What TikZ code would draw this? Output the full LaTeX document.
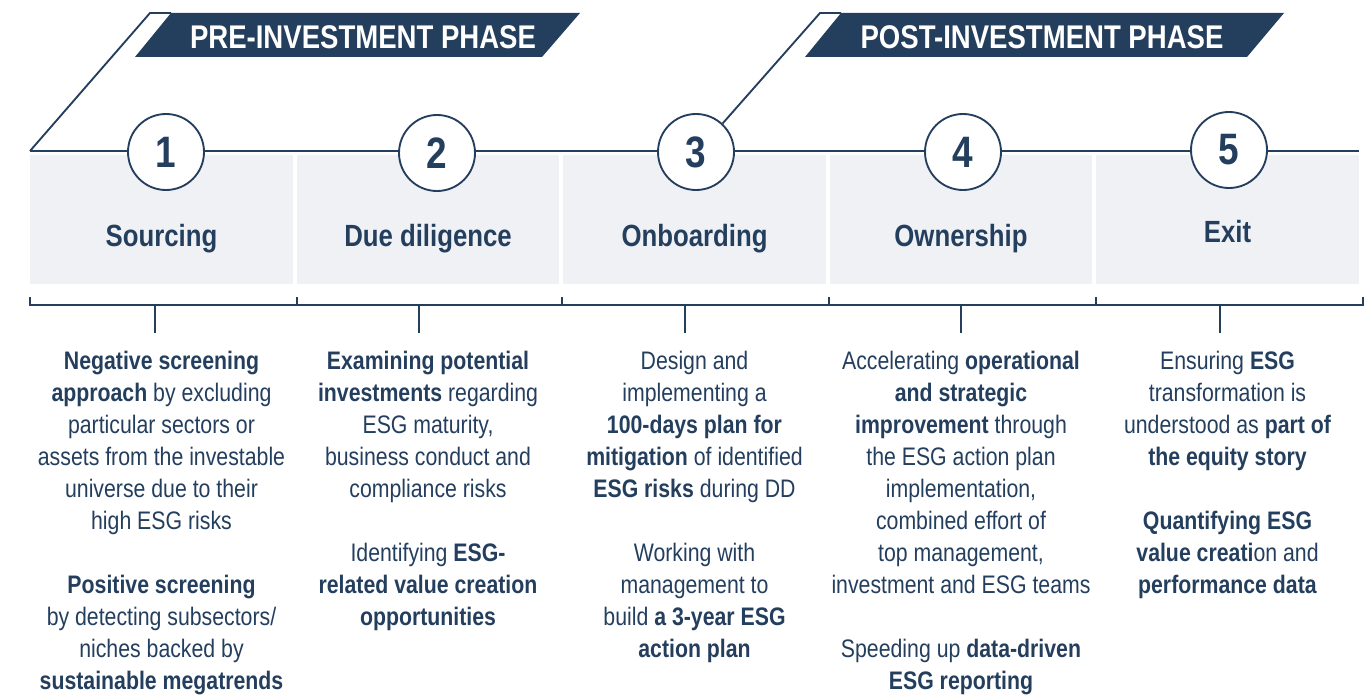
\documentclass[tikz,border=0pt]{standalone}
\usepackage{fontspec}
\setmainfont{Liberation Sans}[FakeStretch=0.84]
\usepackage{xcolor}
\usetikzlibrary{positioning}
\definecolor{navy}{RGB}{36,62,94}
\definecolor{boxgray}{RGB}{240,241,245}

\begin{document}
\begin{tikzpicture}[x=0.75pt,y=-0.75pt,
  rule/.style={draw=navy,line width=1.4pt},
  banner/.style={fill=navy},
  phasetext/.style={text=white,font=\fontsize{24.6}{25}\selectfont\bfseries},
  stepnum/.style={circle,draw=navy,line width=1.4pt,fill=white,minimum size=57pt,inner sep=0pt,text=navy,font=\fontsize{33}{33}\selectfont\bfseries},
  stagebox/.style={fill=boxgray,minimum width=197pt,minimum height=97pt,inner sep=0pt},
  stagename/.style={text=navy,font=\fontsize{23}{23}\selectfont\bfseries,anchor=base},
  desc/.style={align=center,text=navy,inner sep=0pt,font=\fontsize{19}{24}\selectfont}
]
\useasboundingbox (0,0) rectangle (1369,695);

%draw grey boxes with stage names
\foreach \i/\lbl/\ly in {1/Sourcing/246,2/Due diligence/246,3/Onboarding/246,4/Ownership/246,5/Exit/243}{
   \node[stagebox] (b\i) at ({161.5+(\i-1)*266.5},219.5) {};
   \node[stagename] (n\i) at ({161.5+(\i-1)*266.5},\ly) {\lbl};
}

%draw time line
\coordinate (tlstart) at (30,151);
\coordinate (tlend) at (1359,151);
\draw[rule] (tlstart) -- (tlend);

%draw numbered circles
\foreach \i/\x/\y in {1/166/152,2/437/153,3/696/152,4/963/152,5/1229/150}{
   \node[stepnum] (c\i) at (\x,\y) {\i};
}

%draw phase banners
\draw[rule,line join=miter] (tlstart) -- (150,13) -- (171,13);
\fill[banner] (171,13) -- (580,13) -- (542,57) -- (135,57) -- cycle;
\node[phasetext] (pre) at (363,37) {PRE-INVESTMENT PHASE};

\draw[rule,line join=miter] (c3.47) -- (820,13) -- (841,13);
\fill[banner] (841,13) -- (1284,13) -- (1247,57) -- (805,57) -- cycle;
\node[phasetext] (post) at (1042,37) {POST-INVESTMENT PHASE};

%draw bracket
\draw[rule] (30,297) -- (30,305) -- (1363,305) -- (1363,297);
\foreach \x in {297,562,829,1096}{
   \draw[rule] (\x,297) -- (\x,305);
}
\foreach \x/\n in {155/1,419/2,685/3,961/4,1220/5}{
   \draw[rule] (\x,305) -- (\x,333) coordinate (s\n);
}

%draw descriptions
\node[desc,below=50pt of b1] (d1) {\textbf{Negative screening}\\ \textbf{approach} by excluding\\ particular sectors or\\ assets from the investable\\ universe due to their\\ high ESG risks\\[24pt] \textbf{Positive screening}\\ by detecting subsectors/\\ niches backed by\\ \textbf{sustainable megatrends}};
\node[desc,below=50pt of b2] (d2) {\textbf{Examining potential}\\ \textbf{investments} regarding\\ ESG maturity,\\ business conduct and\\ compliance risks\\[24pt] Identifying \textbf{ESG-}\\ \textbf{related value creation}\\ \textbf{opportunities}};
\node[desc,below=50pt of b3] (d3) {Design and\\ implementing a\\ \textbf{100-days plan for}\\ \textbf{mitigation} of identified\\ \textbf{ESG risks} during DD\\[24pt] Working with\\ management to\\ build \textbf{a 3-year ESG}\\ \textbf{action plan}};
\node[desc,below=50pt of b4] (d4) {Accelerating \textbf{operational}\\ \textbf{and strategic}\\ \textbf{improvement} through\\ the ESG action plan\\ implementation,\\ combined effort of\\ top management,\\ investment and ESG teams\\[24pt] Speeding up \textbf{data-driven}\\ \textbf{ESG reporting}};
\node[desc,below=50pt of b5] (d5) {Ensuring \textbf{ESG}\\ transformation is\\ understood as \textbf{part of}\\ \textbf{the equity story}\\[24pt] \textbf{Quantifying ESG}\\ \textbf{value creati}on and\\ \textbf{performance data}};
\end{tikzpicture}
\end{document}
